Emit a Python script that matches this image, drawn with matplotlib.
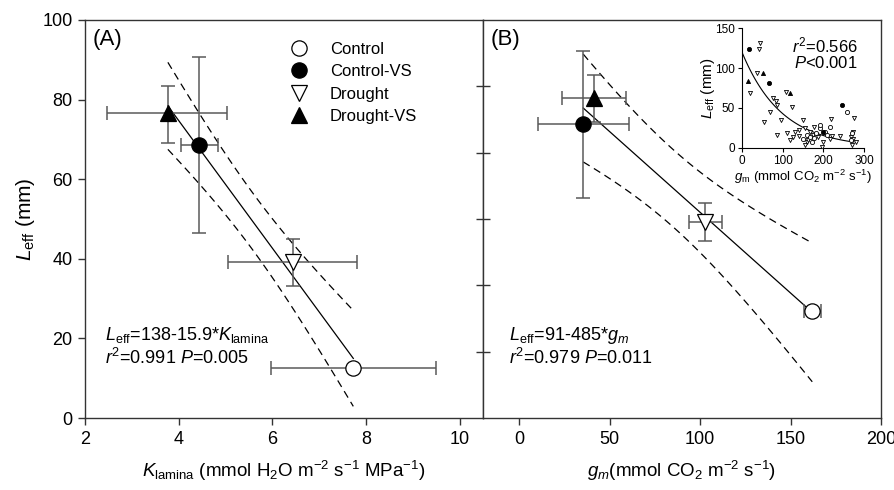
import numpy as np
import matplotlib
matplotlib.use("Agg")
import matplotlib.pyplot as plt
from matplotlib.lines import Line2D

plt.rcParams['font.family'] = ['Liberation Sans', 'DejaVu Sans']
plt.rcParams['mathtext.fontset'] = 'custom'
plt.rcParams['mathtext.rm'] = 'Liberation Sans'
plt.rcParams['mathtext.it'] = 'Liberation Sans:italic'
plt.rcParams['mathtext.bf'] = 'Liberation Sans:bold'

# ---------------- data ----------------
groups = ["Control", "Control-VS", "Drought", "Drought-VS"]
markers = ["o", "o", "v", "^"]
facecolors = ["white", "black", "white", "black"]

# Panel A: K_lamina vs L_eff
k_lamina = [7.73, 4.43, 6.44, 3.77]
k_err_lo = [1.76, 0.38, 1.38, 1.29]
k_err_hi = [1.77, 0.40, 1.36, 1.27]
leff_a = [12.5, 68.7, 39.1, 76.6]
leff_a_err_lo = [0.0, 22.1, 5.9, 7.5]
leff_a_err_hi = [0.0, 22.0, 5.9, 6.7]

# Panel B: g_m vs L_eff
gm = [162.0, 35.4, 102.7, 41.3]
gm_err_lo = [4.5, 24.9, 9.0, 17.9]
gm_err_hi = [4.7, 25.4, 9.5, 17.5]
leff_b = [27.0, 73.9, 49.3, 80.3]
leff_b_err_lo = [0.0, 18.5, 4.8, 5.9]
leff_b_err_hi = [0.0, 18.3, 4.8, 5.9]

# Inset: individual leaves (g_m, L_eff) per group
inset_control_gm = [159, 167, 177, 183, 192, 193, 204, 208, 171, 151, 257, 271, 267, 216]
inset_control_l = [16, 13.8, 11.7, 18, 24.3, 28.5, 19.3, 16, 7.5, 10.5, 44.4, 18, 9.6, 26.4]
inset_controlvs_gm = [16, 66, 247, 200]
inset_controlvs_l = [123.6, 81.7, 53.6, 19.3]
inset_droughtvs_gm = [15, 51, 118]
inset_droughtvs_l = [84, 93.4, 69]
inset_drought_gm = [44, 41, 20, 36, 69, 54, 77, 84, 87, 108, 122, 95, 85, 110, 118, 130,
                    139, 151, 155, 159, 155, 163, 167, 175, 188, 141, 177, 218, 221, 216,
                    242, 267, 276, 272, 274, 281, 270, 196, 200, 126]
inset_drought_l = [132, 123.6, 68.3, 94.3, 45.3, 32.7, 62, 59, 53.6, 70.4, 51.5, 34.8, 15.9,
                   18, 9.6, 20, 14.7, 34.8, 24.3, 7.5, 3.4, 9.6, 20, 16, 13, 22.2, 25.6,
                   35.6, 14.7, 10.5, 14.7, 13.8, 36.9, 20, 10.5, 6.7, 3.4, 1.3, 7.5, 13.8]
# exponential fit shown in the inset: L = a * exp(-b * g_m)
inset_fit_a = 120.0
inset_fit_b = 0.0103

T_CRIT = 4.303  # t(0.975, df = 2)

W, H = 894, 490
fig = plt.figure(figsize=(W / 100, H / 100), dpi=100)
axA = fig.add_axes([85 / W, 72 / H, 398 / W, 398 / H])
axB = fig.add_axes([483 / W, 72 / H, 398 / W, 398 / H])

ecol = '#5a5a5a'


def fit_with_ci(ax, x, y):
    x = np.asarray(x, float)
    y = np.asarray(y, float)
    slope, inter = np.polyfit(x, y, 1)
    n = len(x)
    resid = y - (inter + slope * x)
    s = np.sqrt(np.sum(resid ** 2) / (n - 2))
    sxx = np.sum((x - x.mean()) ** 2)
    xs = np.linspace(x.min(), x.max(), 100)
    ys = inter + slope * xs
    hw = T_CRIT * s * np.sqrt(1.0 / n + (xs - x.mean()) ** 2 / sxx)
    ax.plot(xs, ys, color='black', lw=0.9, zorder=2)
    ax.plot(xs, ys + hw, color='black', lw=0.9, ls=(0, (6, 4)), zorder=2)
    ax.plot(xs, ys - hw, color='black', lw=0.9, ls=(0, (6, 4)), zorder=2)


def draw_points(ax, x, xlo, xhi, y, ylo, yhi):
    for i in range(len(x)):
        ax.errorbar([x[i]], [y[i]], xerr=[[xlo[i]], [xhi[i]]], yerr=[[ylo[i]], [yhi[i]]],
                    fmt='none', ecolor=ecol, elinewidth=1.1, capsize=5, capthick=1.1, zorder=3)
        ax.plot([x[i]], [y[i]], marker=markers[i], ms=11, mfc=facecolors[i], mec='black',
                mew=0.9, ls='none', zorder=4)


fit_with_ci(axA, k_lamina, leff_a)
draw_points(axA, k_lamina, k_err_lo, k_err_hi, leff_a, leff_a_err_lo, leff_a_err_hi)
fit_with_ci(axB, gm, leff_b)
draw_points(axB, gm, gm_err_lo, gm_err_hi, leff_b, leff_b_err_lo, leff_b_err_hi)

spine_col = '#333333'
for ax in (axA, axB):
    ax.set_ylim(0, 100)
    for sp in ax.spines.values():
        sp.set_color(spine_col)
        sp.set_linewidth(1.0)
    ax.tick_params(direction='out', length=5, width=1.0, color=spine_col, labelsize=13, pad=4)

axA.set_xlim(2, 10.5)
axA.set_xticks([2, 4, 6, 8, 10])
axA.set_yticks([0, 20, 40, 60, 80, 100])
axA.tick_params(axis='y', right=False)

axB.set_xlim(-20, 200)
axB.set_xticks([0, 50, 100, 150, 200])
axB.set_yticks(np.linspace(0, 100, 7)[1:-1])
axB.tick_params(axis='y', direction='inout', length=10, labelleft=False)

axA.set_xlabel(r'$K_{\rm lamina}$ (mmol H$_2$O m$^{-2}$ s$^{-1}$ MPa$^{-1}$)', fontsize=13.5, labelpad=8)
axB.set_xlabel(r'$g_m$(mmol CO$_2$ m$^{-2}$ s$^{-1}$)', fontsize=13.5, labelpad=8)
axA.set_ylabel(r'$L_{\rm eff}$ (mm)', fontsize=15, labelpad=4)

axA.text(0.02, 0.95, '(A)', transform=axA.transAxes, fontsize=16, va='center', ha='left')
axB.text(0.02, 0.95, '(B)', transform=axB.transAxes, fontsize=16, va='center', ha='left')

axA.text(0.05, 0.195, r'$L_{\rm eff}$=138-15.9*$K_{\rm lamina}$', transform=axA.transAxes, fontsize=13)
axA.text(0.05, 0.135, r'$r^2$=0.991 $P$=0.005', transform=axA.transAxes, fontsize=13)
axB.text(0.065, 0.195, r'$L_{\rm eff}$=91-485*$g_m$', transform=axB.transAxes, fontsize=13)
axB.text(0.065, 0.135, r'$r^2$=0.979 $P$=0.011', transform=axB.transAxes, fontsize=13)

handles = [Line2D([], [], marker=markers[i], ms=11, mfc=facecolors[i], mec='black', mew=0.9, ls='none')
           for i in range(4)]
axA.legend(handles, groups, loc='upper left', bbox_to_anchor=(280 / W, 1 - 35 / H),
           bbox_transform=fig.transFigure, frameon=False, fontsize=12,
           handletextpad=1.1, labelspacing=0.45, borderaxespad=0, handlelength=1.5)

# ---------------- inset ----------------
ins = fig.add_axes([742 / W, (H - 147.7) / H, 122 / W, 119.4 / H])
ins.set_xlim(0, 300)
ins.set_ylim(0, 150)
gg = np.linspace(0, 275, 100)
ins.plot(gg, inset_fit_a * np.exp(-inset_fit_b * gg), color='black', lw=0.8, zorder=2)
ms_in = 3.0
ins.plot(inset_drought_gm, inset_drought_l, 'v', ms=ms_in, mfc='white', mec='black', mew=0.6, ls='none', zorder=3)
ins.plot(inset_control_gm, inset_control_l, 'o', ms=ms_in, mfc='white', mec='black', mew=0.6, ls='none', zorder=3)
ins.plot(inset_controlvs_gm, inset_controlvs_l, 'o', ms=ms_in, mfc='black', mec='black', mew=0.6, ls='none', zorder=3)
ins.plot(inset_droughtvs_gm, inset_droughtvs_l, '^', ms=ms_in, mfc='black', mec='black', mew=0.6, ls='none', zorder=3)
ins.spines['top'].set_visible(False)
ins.spines['right'].set_visible(False)
for sp in ('left', 'bottom'):
    ins.spines[sp].set_linewidth(0.8)
ins.set_xticks([0, 100, 200, 300])
ins.set_yticks([0, 50, 100, 150])
ins.tick_params(direction='out', length=3, width=0.8, labelsize=8.5, pad=2)
ins.set_ylabel(r'$L_{\rm eff}$ (mm)', fontsize=11, labelpad=-1)
ins.set_xlabel(r'$g_{\rm m}$ (mmol CO$_2$ m$^{-2}$ s$^{-1}$)', fontsize=9.5, labelpad=1)
ins.text(0.95, 0.86, r'$r^2$=0.566', transform=ins.transAxes, fontsize=12, ha='right', va='center')
ins.text(0.95, 0.71, r'$P$<0.001', transform=ins.transAxes, fontsize=12, ha='right', va='center')
ins.patch.set_alpha(0)

fig.savefig('out.png', dpi=100)
